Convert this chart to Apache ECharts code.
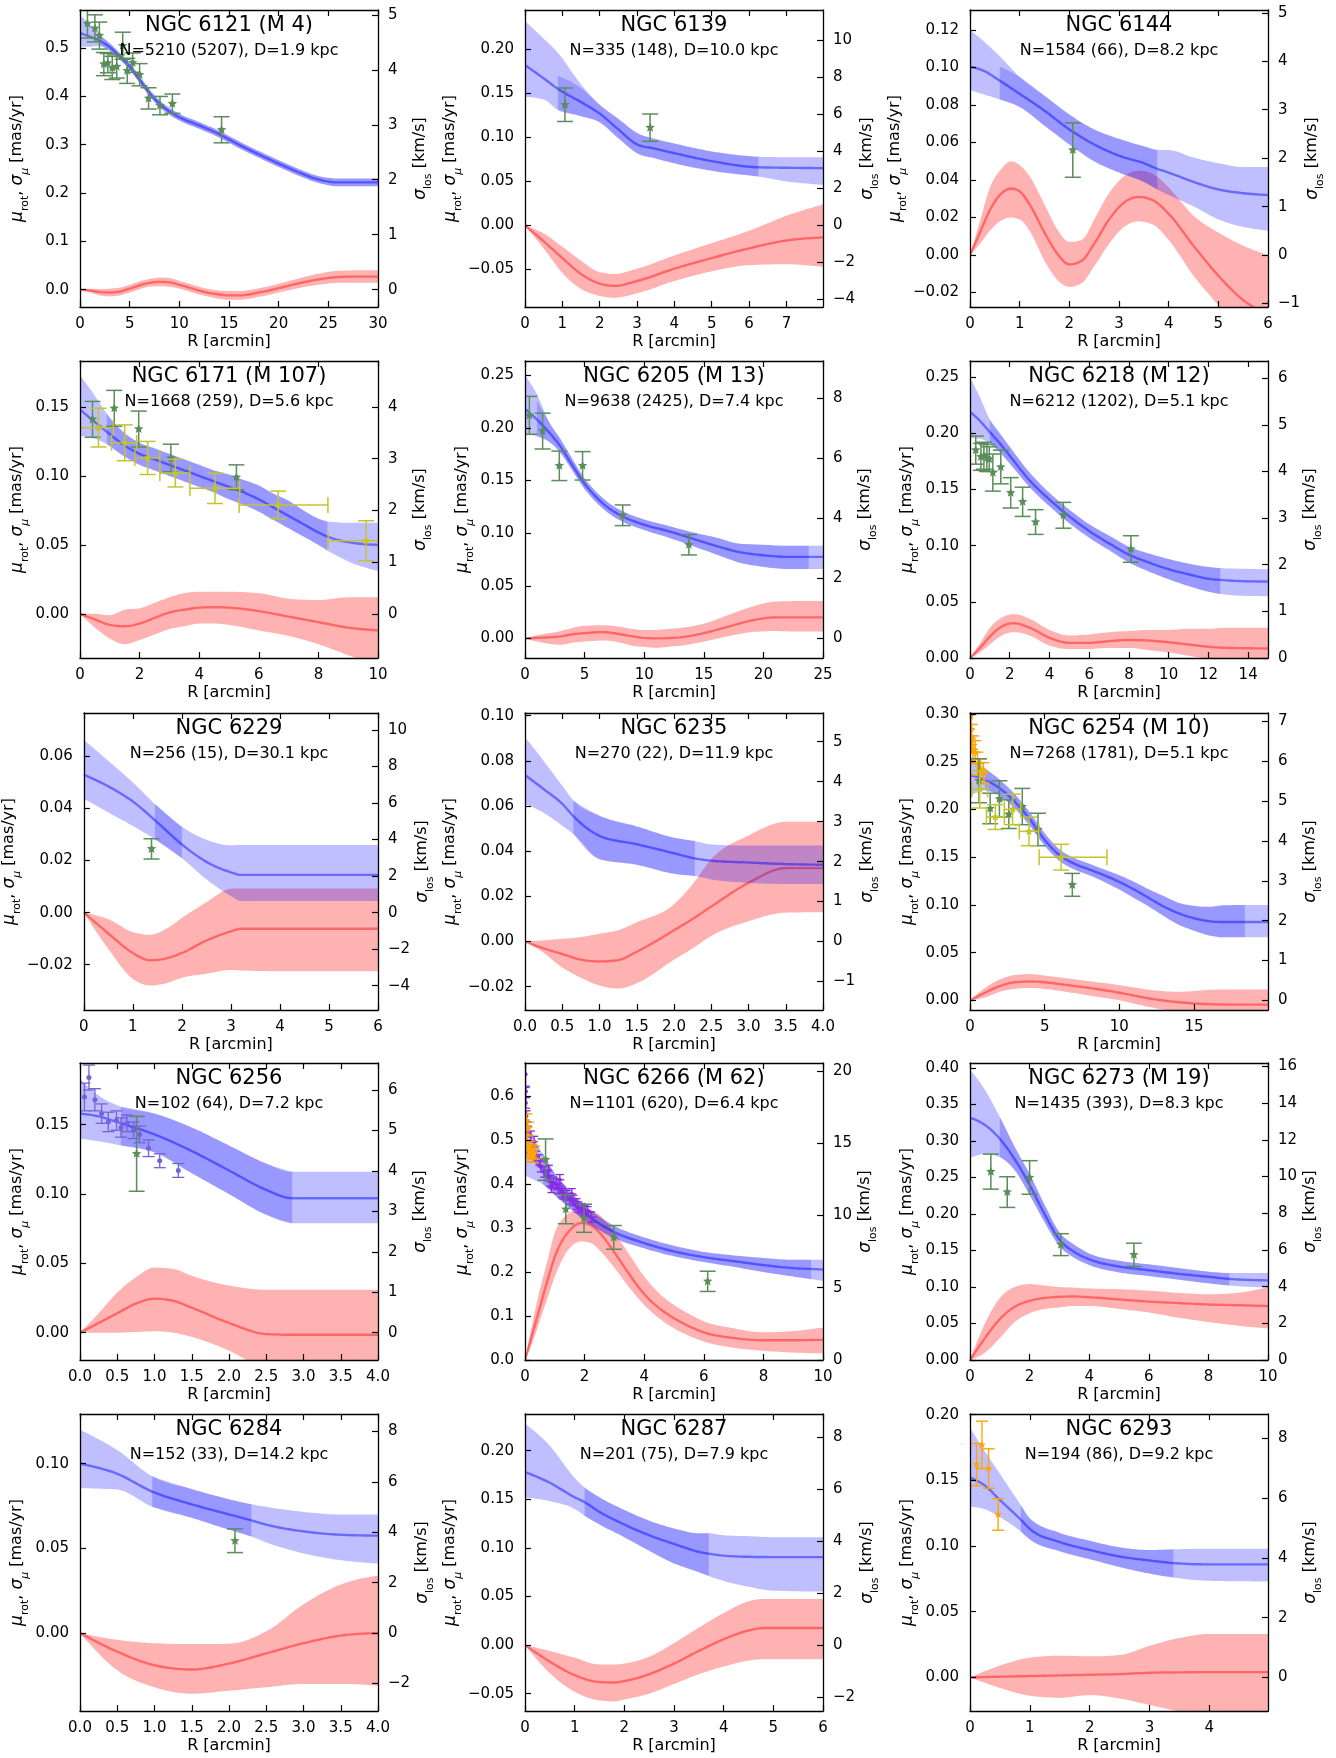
<!DOCTYPE html>
<html>
<head>
<meta charset="utf-8">
<title>Globular cluster kinematic profiles</title>
<script src="https://cdn.jsdelivr.net/npm/echarts@6.0.0/dist/echarts.min.js"></script>
<style>
  html, body { margin: 0; padding: 0; background: #fff; }
  #chart { width: 1336px; height: 1758px; }
</style>
</head>
<body>
<div id="chart"></div>
<script>
// ---------------------------------------------------------------------------
// Profiles per cluster.
//   *_disp : [R, sigma, lower, upper]   dispersion profile and its band (mas/yr)
//   *_core : [R, lower, upper]          well-constrained part of the dispersion band
//   *_rot  : [R, mu_rot, lower, upper]  rotation profile and its band (mas/yr)
//   *_los  : [R, value, err]            line-of-sight dispersion bins (converted)
//   *_pm   : [R, value, err, xErrLow, xErrHigh]  other proper-motion dispersion bins
// ---------------------------------------------------------------------------

// NGC 6121 (M 4)
const ngc6121_disp = [
  [0, 0.531, 0.503, 0.568], [1, 0.524, 0.503, 0.550], [2, 0.515, 0.505, 0.527],
  [3, 0.502, 0.494, 0.510], [4, 0.483, 0.476, 0.490], [5, 0.462, 0.455, 0.469],
  [6, 0.435, 0.428, 0.442], [7, 0.407, 0.400, 0.414], [8, 0.385, 0.378, 0.392],
  [9, 0.369, 0.362, 0.376], [10, 0.357, 0.350, 0.364], [12, 0.340, 0.333, 0.347],
  [14, 0.322, 0.315, 0.329], [16, 0.300, 0.293, 0.307], [18, 0.280, 0.273, 0.287],
  [20, 0.261, 0.254, 0.268], [22, 0.243, 0.236, 0.250], [24, 0.228, 0.221, 0.235],
  [26, 0.222, 0.214, 0.230], [28, 0.222, 0.214, 0.230], [30, 0.222, 0.214, 0.230]
];
const ngc6121_core = [
  [2, 0.505, 0.527], [3, 0.494, 0.510], [4, 0.476, 0.490], [5, 0.455, 0.469],
  [6, 0.428, 0.442], [7, 0.400, 0.414], [8, 0.378, 0.392], [9, 0.362, 0.376],
  [10, 0.350, 0.364], [12, 0.333, 0.347], [14, 0.315, 0.329], [16, 0.293, 0.307],
  [18, 0.273, 0.287], [20, 0.254, 0.268], [22, 0.236, 0.250], [24, 0.221, 0.235],
  [26, 0.214, 0.230], [28, 0.214, 0.230], [30, 0.214, 0.230]
];
const ngc6121_rot = [
  [0, 0, 0, 0], [1, -0.002, -0.006, 0.002], [2, -0.005, -0.012, 0.001],
  [3, -0.006, -0.014, 0.002], [4, -0.004, -0.012, 0.004], [5, 0.002, -0.006, 0.010],
  [6, 0.009, 0.001, 0.017], [7, 0.014, 0.006, 0.022], [8, 0.016, 0.007, 0.025],
  [9, 0.015, 0.006, 0.024], [10, 0.010, 0.002, 0.018], [11, 0.004, -0.004, 0.012],
  [12, -0.002, -0.010, 0.006], [13, -0.007, -0.015, 0.001], [14, -0.010, -0.019, -0.002],
  [15, -0.012, -0.021, -0.003], [16, -0.012, -0.021, -0.003], [17, -0.010, -0.019, -0.001],
  [18, -0.006, -0.015, 0.003], [19, -0.002, -0.011, 0.007], [20, 0.003, -0.006, 0.012],
  [22, 0.013, 0.003, 0.023], [24, 0.021, 0.010, 0.033], [26, 0.026, 0.014, 0.039],
  [28, 0.027, 0.014, 0.040], [30, 0.027, 0.014, 0.040]
];
const ngc6121_los = [
  [0.75, 0.551, 0.030], [1.5, 0.541, 0.028], [1.95, 0.526, 0.028], [2.4, 0.467, 0.024],
  [2.8, 0.469, 0.020], [3.25, 0.459, 0.024], [3.7, 0.462, 0.024], [4.3, 0.505, 0.028],
  [4.75, 0.453, 0.026], [5.3, 0.470, 0.020], [6.0, 0.445, 0.023], [6.9, 0.396, 0.022],
  [8.05, 0.381, 0.019], [9.3, 0.385, 0.020], [14.25, 0.331, 0.027]
];

// NGC 6139
const ngc6139_disp = [
  [0, 0.182, 0.146, 0.232], [0.5, 0.167, 0.143, 0.212], [0.88, 0.155, 0.131, 0.196],
  [1.5, 0.140, 0.124, 0.160], [2, 0.127, 0.117, 0.137], [2.5, 0.109, 0.099, 0.121],
  [3, 0.092, 0.082, 0.105], [3.5, 0.087, 0.076, 0.098], [4, 0.082, 0.0705, 0.093],
  [5, 0.073, 0.062, 0.084], [6.25, 0.066, 0.0555, 0.078], [7, 0.0655, 0.050, 0.0775],
  [7.98, 0.065, 0.046, 0.0775]
];
const ngc6139_core = [
  [0.88, 0.131, 0.170], [1.5, 0.124, 0.156], [2, 0.117, 0.137], [2.5, 0.099, 0.121],
  [3, 0.082, 0.105], [3.5, 0.076, 0.098], [4, 0.0705, 0.093], [5, 0.062, 0.084],
  [6.25, 0.0555, 0.078]
];
const ngc6139_rot = [
  [0, 0, 0, 0], [0.5, -0.018, -0.026, -0.009], [1, -0.037, -0.054, -0.024],
  [1.5, -0.055, -0.072, -0.040], [2, -0.066, -0.080, -0.053], [2.4, -0.0685, -0.082, -0.055],
  [3, -0.063, -0.077, -0.049], [4, -0.049, -0.063, -0.034], [5, -0.037, -0.052, -0.020],
  [6, -0.026, -0.045, -0.006], [7, -0.017, -0.044, 0.011], [7.98, -0.0135, -0.047, 0.024]
];
const ngc6139_los = [[1.07, 0.137, 0.019], [3.35, 0.111, 0.0155]];

// NGC 6144
const ngc6144_disp = [
  [0, 0.1005, 0.088, 0.120], [0.3, 0.098, 0.0855, 0.1135], [0.6, 0.093, 0.083, 0.106],
  [1, 0.086, 0.079, 0.095], [1.5, 0.077, 0.069, 0.085], [2, 0.067, 0.059, 0.075],
  [2.5, 0.059, 0.050, 0.067], [3, 0.053, 0.044, 0.062], [3.5, 0.049, 0.039, 0.058],
  [3.77, 0.046, 0.035, 0.056], [4, 0.044, 0.032, 0.056], [4.5, 0.039, 0.026, 0.052],
  [5, 0.035, 0.019, 0.049], [5.5, 0.033, 0.015, 0.047], [6, 0.032, 0.013, 0.047]
];
const ngc6144_core = [
  [0.6, 0.083, 0.1005], [1, 0.079, 0.095], [1.5, 0.069, 0.085], [2, 0.059, 0.075],
  [2.5, 0.050, 0.067], [3, 0.044, 0.062], [3.5, 0.039, 0.058], [3.77, 0.035, 0.056]
];
const ngc6144_rot = [
  [0, 0, 0, 0], [0.2, 0.012, 0.006, 0.018], [0.4, 0.024, 0.013, 0.036],
  [0.6, 0.032, 0.018, 0.045], [0.83, 0.0355, 0.020, 0.050], [1.0, 0.034, 0.019, 0.048],
  [1.2, 0.027, 0.013, 0.042], [1.5, 0.012, -0.003, 0.027], [1.75, 0.001, -0.013, 0.014],
  [2.0, -0.005, -0.017, 0.007], [2.25, -0.003, -0.015, 0.008], [2.5, 0.006, -0.006, 0.019],
  [2.8, 0.019, 0.006, 0.033], [3.1, 0.028, 0.015, 0.042], [3.4, 0.031, 0.018, 0.045],
  [3.7, 0.029, 0.016, 0.043], [4.0, 0.022, 0.008, 0.036], [4.5, 0.005, -0.011, 0.021],
  [5.0, -0.011, -0.027, 0.012], [5.5, -0.024, -0.045, 0.005], [6.0, -0.032, -0.060, 0.000]
];
const ngc6144_los = [[2.07, 0.056, 0.0145]];

// NGC 6171 (M 107)
const ngc6171_disp = [
  [0, 0.148, 0.129, 0.173], [0.5, 0.139, 0.127, 0.158], [0.9, 0.132, 0.123, 0.145],
  [1.5, 0.122, 0.114, 0.131], [2, 0.116, 0.108, 0.124], [2.5, 0.112, 0.104, 0.120],
  [3, 0.108, 0.100, 0.116], [3.5, 0.104, 0.096, 0.112], [4, 0.100, 0.092, 0.108],
  [4.5, 0.096, 0.088, 0.104], [5, 0.092, 0.083, 0.101], [5.5, 0.088, 0.079, 0.097],
  [6, 0.083, 0.074, 0.093], [6.5, 0.077, 0.068, 0.087], [7, 0.071, 0.062, 0.082],
  [7.5, 0.065, 0.056, 0.075], [8, 0.059, 0.050, 0.069], [8.3, 0.056, 0.046, 0.067],
  [9, 0.052, 0.038, 0.066], [10, 0.050, 0.031, 0.066]
];
const ngc6171_core = [
  [0.9, 0.123, 0.145], [1.5, 0.114, 0.131], [2, 0.108, 0.124], [2.5, 0.104, 0.120],
  [3, 0.100, 0.116], [3.5, 0.096, 0.112], [4, 0.092, 0.108], [4.5, 0.088, 0.104],
  [5, 0.083, 0.101], [5.5, 0.079, 0.097], [6, 0.074, 0.093], [6.5, 0.068, 0.087],
  [7, 0.062, 0.082], [7.5, 0.056, 0.075], [8, 0.050, 0.069], [8.3, 0.046, 0.067]
];
const ngc6171_rot = [
  [0, 0, 0, 0], [0.5, -0.004, -0.010, 0.000], [1, -0.008, -0.018, -0.001],
  [1.5, -0.009, -0.022, 0.003], [2, -0.007, -0.019, 0.004], [2.5, -0.003, -0.015, 0.008],
  [3, 0.001, -0.011, 0.012], [3.5, 0.003, -0.009, 0.015], [4, 0.0045, -0.007, 0.016],
  [4.5, 0.0048, -0.007, 0.016], [5, 0.0045, -0.008, 0.016], [6, 0.002, -0.012, 0.015],
  [7, -0.002, -0.016, 0.011], [8, -0.006, -0.022, 0.010], [9, -0.010, -0.030, 0.012],
  [10, -0.012, -0.038, 0.012]
];
const ngc6171_los = [
  [0.42, 0.141, 0.013], [1.15, 0.149, 0.013], [1.97, 0.134, 0.013],
  [3.05, 0.113, 0.010], [5.25, 0.099, 0.009]
];
const ngc6171_pm = [
  [0.62, 0.135, 0.014, 0.62, 0.50], [1.5, 0.124, 0.013, 0.44, 0.40], [2.27, 0.113, 0.012, 0.43, 0.41],
  [3.2, 0.102, 0.010, 0.52, 0.49], [4.53, 0.091, 0.011, 0.84, 0.83], [6.65, 0.079, 0.010, 1.31, 1.67],
  [9.6, 0.053, 0.0145, 1.27, 1.30]
];

// NGC 6205 (M 13)
const ngc6205_disp = [
  [0, 0.218, 0.194, 0.250], [1, 0.208, 0.192, 0.232], [2, 0.196, 0.187, 0.206],
  [3, 0.182, 0.176, 0.189], [4, 0.164, 0.159, 0.170], [5, 0.147, 0.142, 0.152],
  [6, 0.134, 0.129, 0.139], [7, 0.124, 0.119, 0.129], [8, 0.117, 0.112, 0.122],
  [10, 0.108, 0.103, 0.113], [12, 0.102, 0.096, 0.107], [14, 0.095, 0.088, 0.101],
  [16, 0.088, 0.080, 0.096], [18, 0.082, 0.072, 0.090], [20, 0.079, 0.068, 0.089],
  [22, 0.0775, 0.066, 0.088], [23.8, 0.0775, 0.066, 0.088], [25, 0.0775, 0.066, 0.088]
];
const ngc6205_core = [
  [1, 0.192, 0.226], [2, 0.187, 0.206], [3, 0.176, 0.189], [4, 0.159, 0.170],
  [5, 0.142, 0.152], [6, 0.129, 0.139], [7, 0.119, 0.129], [8, 0.112, 0.122],
  [10, 0.103, 0.113], [12, 0.096, 0.107], [14, 0.088, 0.101], [16, 0.080, 0.096],
  [18, 0.072, 0.090], [20, 0.068, 0.089], [22, 0.066, 0.088], [23.8, 0.066, 0.088]
];
const ngc6205_rot = [
  [0, 0, 0, 0], [1, 0.0005, -0.003, 0.003], [2, 0.001, -0.005, 0.005],
  [3, 0.002, -0.006, 0.007], [4, 0.004, -0.004, 0.010], [5, 0.005, -0.003, 0.012],
  [6.5, 0.006, -0.002, 0.0125], [8, 0.004, -0.004, 0.011], [9, 0.002, -0.007, 0.009],
  [10, 0.0005, -0.008, 0.008], [11, 0.0, -0.009, 0.008], [12, 0.0003, -0.008, 0.009],
  [13, 0.001, -0.007, 0.010], [15, 0.005, -0.003, 0.014], [17, 0.011, 0.002, 0.022],
  [19, 0.017, 0.006, 0.030], [21, 0.020, 0.007, 0.035], [23, 0.020, 0.0065, 0.0355],
  [25, 0.020, 0.0065, 0.0355]
];
const ngc6205_los = [
  [0.37, 0.212, 0.018], [1.48, 0.197, 0.017], [2.88, 0.164, 0.014],
  [4.83, 0.164, 0.0135], [8.2, 0.117, 0.0098], [13.75, 0.089, 0.0097]
];

// NGC 6218 (M 12)
const ngc6218_disp = [
  [0, 0.219, 0.196, 0.250], [0.5, 0.211, 0.195, 0.232], [1, 0.201, 0.191, 0.212],
  [1.5, 0.191, 0.183, 0.200], [2, 0.180, 0.173, 0.188], [3, 0.158, 0.152, 0.165],
  [4, 0.141, 0.135, 0.147], [5, 0.126, 0.120, 0.132], [6, 0.113, 0.107, 0.119],
  [7, 0.102, 0.096, 0.109], [8, 0.092, 0.085, 0.099], [9, 0.085, 0.077, 0.093],
  [10, 0.079, 0.070, 0.088], [11, 0.0745, 0.064, 0.084], [12, 0.0705, 0.059, 0.081],
  [12.6, 0.0695, 0.057, 0.080], [13.5, 0.0685, 0.0555, 0.0795], [15, 0.068, 0.055, 0.079]
];
const ngc6218_core = [
  [1, 0.191, 0.212], [1.5, 0.183, 0.200], [2, 0.173, 0.188], [3, 0.152, 0.165],
  [4, 0.135, 0.147], [5, 0.120, 0.132], [6, 0.107, 0.119], [7, 0.096, 0.109],
  [8, 0.085, 0.099], [9, 0.077, 0.093], [10, 0.070, 0.088], [11, 0.064, 0.084],
  [12, 0.059, 0.081], [12.6, 0.057, 0.080]
];
const ngc6218_rot = [
  [0, 0, 0, 0], [0.5, 0.009, 0.005, 0.013], [1, 0.019, 0.012, 0.027],
  [1.5, 0.027, 0.019, 0.035], [2.2, 0.031, 0.023, 0.039], [3, 0.027, 0.020, 0.035],
  [4, 0.018, 0.011, 0.025], [5, 0.0135, 0.008, 0.020], [6, 0.0135, 0.008, 0.021],
  [7, 0.015, 0.009, 0.023], [8, 0.016, 0.009, 0.024], [9, 0.0155, 0.007, 0.025],
  [10, 0.014, 0.005, 0.025], [11, 0.012, 0.002, 0.026], [12, 0.010, -0.001, 0.026],
  [13, 0.009, -0.002, 0.027], [15, 0.0085, -0.002, 0.027]
];
const ngc6218_los = [
  [0.29, 0.185, 0.0125], [0.55, 0.179, 0.012], [0.7, 0.180, 0.012], [0.85, 0.178, 0.012],
  [0.97, 0.177, 0.011], [1.15, 0.165, 0.0165], [1.55, 0.170, 0.015], [2.05, 0.147, 0.0135],
  [2.65, 0.139, 0.013], [3.3, 0.121, 0.011], [4.7, 0.127, 0.0115], [8.1, 0.097, 0.0118]
];

// NGC 6229
const ngc6229_disp = [
  [0, 0.053, 0.0438, 0.0664], [0.5, 0.0485, 0.0385, 0.0583], [1, 0.0427, 0.0333, 0.0500],
  [1.45, 0.0355, 0.0282, 0.0417], [2, 0.0262, 0.0209, 0.0330], [2.5, 0.0195, 0.0128, 0.0280],
  [3, 0.0155, 0.0064, 0.0259], [3.2, 0.0145, 0.0045, 0.0260], [4, 0.0145, 0.0045, 0.0260],
  [6, 0.0145, 0.0045, 0.0260]
];
const ngc6229_core = [[1.45, 0.0282, 0.0417], [2, 0.0209, 0.0330]];
const ngc6229_rot = [
  [0, 0, 0, 0], [0.5, -0.008, -0.014, -0.0025], [1, -0.0155, -0.0255, -0.0075],
  [1.35, -0.0183, -0.028, -0.0085], [1.7, -0.0175, -0.027, -0.006], [2, -0.0155, -0.025, -0.002],
  [2.5, -0.0107, -0.0235, 0.004], [3, -0.0072, -0.022, 0.0092], [3.2, -0.0062, -0.0222, 0.0093],
  [4, -0.0062, -0.0225, 0.0093], [6, -0.0062, -0.0225, 0.0093]
];
const ngc6229_los = [[1.38, 0.0245, 0.0039]];

// NGC 6235
const ngc6235_disp = [
  [0, 0.0737, 0.061, 0.0905], [0.25, 0.0675, 0.057, 0.080], [0.5, 0.061, 0.0513, 0.069],
  [0.65, 0.0555, 0.0476, 0.0625], [1, 0.0468, 0.0365, 0.0557], [1.5, 0.0431, 0.034, 0.051],
  [2, 0.0391, 0.030, 0.046], [2.28, 0.0368, 0.029, 0.0445], [2.5, 0.0358, 0.0275, 0.043],
  [3, 0.035, 0.026, 0.0425], [3.5, 0.0343, 0.0255, 0.0425], [4, 0.034, 0.0255, 0.0425]
];
const ngc6235_core = [
  [0.65, 0.0476, 0.0625], [1, 0.0365, 0.0557], [1.5, 0.034, 0.051], [2, 0.030, 0.046],
  [2.28, 0.029, 0.0445]
];
const ngc6235_rot = [
  [0, 0, 0, 0], [0.25, -0.003, -0.005, 0.0005], [0.5, -0.0055, -0.0115, 0.0012],
  [0.75, -0.008, -0.016, 0.002], [1, -0.0088, -0.0195, 0.0035], [1.25, -0.0082, -0.0208, 0.005],
  [1.5, -0.0045, -0.0185, 0.0085], [2, 0.005, -0.008, 0.0165], [2.25, 0.010, -0.003, 0.0254],
  [2.5, 0.0155, 0.0025, 0.0365], [3, 0.026, 0.009, 0.047], [3.5, 0.0325, 0.0128, 0.053],
  [4, 0.0325, 0.013, 0.053]
];

// NGC 6254 (M 10)
const ngc6254_disp = [
  [0, 0.236, 0.214, 0.255], [1, 0.231, 0.220, 0.243], [2, 0.222, 0.214, 0.231],
  [3, 0.208, 0.201, 0.216], [4, 0.190, 0.183, 0.197], [5, 0.168, 0.162, 0.175],
  [6, 0.152, 0.146, 0.158], [7, 0.143, 0.137, 0.149], [8, 0.137, 0.131, 0.143],
  [9, 0.131, 0.124, 0.137], [10, 0.124, 0.116, 0.131], [11, 0.116, 0.107, 0.124],
  [12, 0.107, 0.098, 0.116], [13, 0.098, 0.088, 0.109], [14, 0.091, 0.079, 0.102],
  [15, 0.086, 0.073, 0.099], [16, 0.083, 0.068, 0.098], [17, 0.082, 0.066, 0.0995],
  [18.4, 0.082, 0.066, 0.100], [19.95, 0.082, 0.066, 0.100]
];
const ngc6254_core = [
  [1, 0.220, 0.243], [2, 0.214, 0.231], [3, 0.201, 0.216], [4, 0.183, 0.197],
  [5, 0.162, 0.175], [6, 0.146, 0.158], [7, 0.137, 0.149], [8, 0.131, 0.143],
  [9, 0.124, 0.137], [10, 0.116, 0.131], [11, 0.107, 0.124], [12, 0.098, 0.116],
  [13, 0.088, 0.109], [14, 0.079, 0.102], [15, 0.073, 0.099], [16, 0.068, 0.098],
  [17, 0.066, 0.0995], [18.4, 0.066, 0.100]
];
const ngc6254_rot = [
  [0, 0, 0, 0], [1, 0.008, 0.003, 0.013], [2, 0.015, 0.009, 0.022],
  [3, 0.019, 0.012, 0.0265], [4, 0.0198, 0.013, 0.0275], [5, 0.019, 0.012, 0.026],
  [6, 0.017, 0.010, 0.024], [8, 0.013, 0.005, 0.020], [10, 0.008, 0.000, 0.016],
  [12, 0.002, -0.007, 0.011], [14, -0.002, -0.012, 0.009], [16, -0.004, -0.016, 0.011],
  [18, -0.0045, -0.018, 0.0115], [19.95, -0.0045, -0.018, 0.0115]
];
const ngc6254_los = [
  [0.6, 0.230, 0.023], [1.35, 0.201, 0.016], [1.97, 0.211, 0.019], [2.6, 0.195, 0.015],
  [3.5, 0.203, 0.019], [4.55, 0.179, 0.017], [6.85, 0.121, 0.012]
];
const ngc6254_pm = [
  [0.65, 0.221, 0.0195, 0.53, 0.53], [1.7, 0.192, 0.013, 0.6, 0.6], [2.85, 0.200, 0.016, 0.55, 0.55],
  [3.95, 0.177, 0.015, 0.65, 0.65], [6.1, 0.150, 0.0135, 1.47, 3.07]
];
const ngc6254_pmInner = [
  [0.05, 0.297, 0.020, 0.05, 0.10], [0.08, 0.284, 0.016, 0.08, 0.25], [0.12, 0.274, 0.015, 0.10, 0.30],
  [0.2, 0.263, 0.014, 0.15, 0.35], [0.35, 0.260, 0.012, 0.20, 0.30], [0.5, 0.248, 0.012, 0.30, 0.40],
  [0.7, 0.242, 0.011, 0.30, 0.40], [0.9, 0.238, 0.011, 0.35, 0.35]
];

// NGC 6256
const ngc6256_disp = [
  [0, 0.158, 0.140, 0.183], [0.25, 0.156, 0.138, 0.171], [0.55, 0.151, 0.135, 0.163],
  [1, 0.143, 0.130, 0.158], [1.5, 0.131, 0.115, 0.148], [2, 0.117, 0.100, 0.135],
  [2.5, 0.103, 0.085, 0.122], [2.85, 0.097, 0.079, 0.116], [4, 0.097, 0.079, 0.116]
];
const ngc6256_core = [
  [0.55, 0.135, 0.163], [1, 0.130, 0.158], [1.5, 0.115, 0.148], [2, 0.100, 0.135],
  [2.5, 0.085, 0.122], [2.85, 0.079, 0.116]
];
const ngc6256_rot = [
  [0, 0, 0, 0], [0.25, 0.007, 0.0, 0.014], [0.5, 0.014, 0.0, 0.029],
  [0.75, 0.021, 0.0005, 0.040], [1, 0.0245, 0.001, 0.047], [1.25, 0.023, 0.0, 0.046],
  [1.5, 0.018, -0.003, 0.041], [2, 0.007, -0.013, 0.034], [2.5, -0.001, -0.027, 0.031],
  [2.85, -0.0015, -0.032, 0.031], [4, -0.0015, -0.032, 0.031]
];
const ngc6256_los = [[0.76, 0.129, 0.027]];
const ngc6256_pm = [
  [0.06, 0.170, 0.010], [0.12, 0.184, 0.009], [0.2, 0.168, 0.008], [0.29, 0.158, 0.007],
  [0.38, 0.152, 0.007], [0.49, 0.153, 0.007], [0.55, 0.148, 0.007], [0.63, 0.151, 0.006],
  [0.72, 0.146, 0.006], [0.8, 0.143, 0.006], [0.92, 0.133, 0.006], [1.07, 0.124, 0.005],
  [1.32, 0.117, 0.005]
];

// NGC 6266 (M 62)
const ngc6266_disp = [
  [0, 0.475, 0.420, 0.540], [0.3, 0.455, 0.410, 0.505], [0.6, 0.432, 0.400, 0.468],
  [1, 0.400, 0.375, 0.425], [1.5, 0.365, 0.345, 0.385], [2, 0.335, 0.318, 0.352],
  [2.5, 0.310, 0.295, 0.326], [3, 0.291, 0.277, 0.305], [4, 0.266, 0.254, 0.279],
  [5, 0.247, 0.236, 0.260], [6, 0.234, 0.223, 0.246], [7, 0.225, 0.212, 0.238],
  [8, 0.216, 0.200, 0.232], [9, 0.209, 0.190, 0.228], [9.6, 0.207, 0.184, 0.228],
  [10, 0.206, 0.180, 0.228]
];
const ngc6266_core = [
  [0.6, 0.400, 0.468], [1, 0.375, 0.425], [1.5, 0.345, 0.385], [2, 0.318, 0.352],
  [2.5, 0.295, 0.326], [3, 0.277, 0.305], [4, 0.254, 0.279], [5, 0.236, 0.260],
  [6, 0.223, 0.246], [7, 0.212, 0.238], [8, 0.200, 0.232], [9, 0.190, 0.228],
  [9.6, 0.184, 0.228]
];
const ngc6266_rot = [
  [0, 0, 0, 0], [0.25, 0.060, 0.040, 0.085], [0.5, 0.120, 0.090, 0.160],
  [0.75, 0.180, 0.140, 0.225], [1, 0.235, 0.190, 0.290], [1.5, 0.295, 0.255, 0.335],
  [1.9, 0.312, 0.270, 0.345], [2.25, 0.305, 0.265, 0.340], [2.5, 0.290, 0.250, 0.330],
  [3, 0.245, 0.210, 0.290], [3.5, 0.195, 0.165, 0.240], [4, 0.150, 0.125, 0.190],
  [4.5, 0.118, 0.095, 0.152], [5, 0.095, 0.072, 0.125], [5.5, 0.077, 0.055, 0.105],
  [6, 0.063, 0.042, 0.088], [7, 0.050, 0.028, 0.072], [8, 0.045, 0.021, 0.063],
  [9, 0.045, 0.017, 0.066], [10, 0.046, 0.015, 0.074]
];
const ngc6266_los = [
  [0.69, 0.456, 0.047], [1.37, 0.343, 0.033], [1.98, 0.3225, 0.032],
  [2.98, 0.279, 0.027], [6.13, 0.179, 0.023]
];
const ngc6266_pm = [
  [0.02, 0.650, 0.030, 0.02, 0.02], [0.03, 0.611, 0.012, 0.03, 0.03], [0.03, 0.585, 0.012, 0.03, 0.03],
  [0.05, 0.555, 0.012, 0.04, 0.04], [0.08, 0.529, 0.012, 0.05, 0.05], [0.1, 0.520, 0.012, 0.06, 0.06],
  [0.2, 0.509, 0.012, 0.10, 0.10], [0.31, 0.497, 0.012, 0.12, 0.12], [0.25, 0.478, 0.012, 0.10, 0.10],
  [0.37, 0.463, 0.012, 0.12, 0.12], [0.48, 0.455, 0.012, 0.12, 0.12], [0.53, 0.440, 0.012, 0.12, 0.12],
  [0.64, 0.428, 0.012, 0.12, 0.12], [0.75, 0.420, 0.012, 0.12, 0.12], [0.8, 0.431, 0.012, 0.12, 0.12],
  [0.84, 0.408, 0.012, 0.12, 0.12], [0.95, 0.404, 0.012, 0.12, 0.12], [0.89, 0.393, 0.012, 0.12, 0.12],
  [1.06, 0.400, 0.012, 0.15, 0.15], [1.12, 0.390, 0.012, 0.15, 0.15], [1.17, 0.410, 0.012, 0.15, 0.15],
  [1.23, 0.382, 0.012, 0.15, 0.15], [1.29, 0.378, 0.012, 0.15, 0.15], [1.4, 0.374, 0.012, 0.15, 0.15],
  [1.51, 0.367, 0.012, 0.15, 0.15], [1.57, 0.378, 0.012, 0.15, 0.15], [1.62, 0.363, 0.012, 0.15, 0.15],
  [1.73, 0.355, 0.012, 0.15, 0.15], [1.79, 0.348, 0.012, 0.15, 0.15], [1.9, 0.344, 0.012, 0.15, 0.15],
  [2.0, 0.340, 0.012, 0.20, 0.20], [2.1, 0.337, 0.012, 0.20, 0.20], [2.22, 0.325, 0.012, 0.20, 0.20]
];
const ngc6266_pmInner = [
  [0.05, 0.545, 0.015, 0.05, 0.05], [0.1, 0.526, 0.015, 0.08, 0.08], [0.07, 0.495, 0.015, 0.07, 0.07],
  [0.15, 0.483, 0.015, 0.10, 0.10], [0.2, 0.476, 0.015, 0.12, 0.12], [0.26, 0.465, 0.015, 0.12, 0.12],
  [0.1, 0.465, 0.015, 0.10, 0.10], [0.31, 0.472, 0.015, 0.12, 0.12]
];

// NGC 6273 (M 19)
const ngc6273_disp = [
  [0, 0.332, 0.277, 0.398], [0.5, 0.322, 0.282, 0.370], [1, 0.303, 0.278, 0.333],
  [1.5, 0.275, 0.260, 0.292], [2, 0.240, 0.226, 0.255], [2.5, 0.200, 0.189, 0.213],
  [3, 0.165, 0.156, 0.175], [3.5, 0.148, 0.140, 0.158], [4, 0.138, 0.130, 0.146],
  [5, 0.128, 0.120, 0.136], [6, 0.123, 0.115, 0.131], [7, 0.118, 0.110, 0.126],
  [8, 0.114, 0.105, 0.121], [8.7, 0.111, 0.102, 0.119], [10, 0.109, 0.099, 0.119]
];
const ngc6273_core = [
  [1, 0.278, 0.333], [1.5, 0.260, 0.292], [2, 0.226, 0.255], [2.5, 0.189, 0.213],
  [3, 0.156, 0.175], [3.5, 0.140, 0.158], [4, 0.130, 0.146], [5, 0.120, 0.136],
  [6, 0.115, 0.131], [7, 0.110, 0.126], [8, 0.105, 0.121], [8.7, 0.102, 0.119]
];
const ngc6273_rot = [
  [0, 0, 0, 0], [0.5, 0.030, 0.010, 0.050], [1, 0.056, 0.030, 0.085],
  [1.5, 0.073, 0.052, 0.100], [2, 0.081, 0.064, 0.104], [2.5, 0.085, 0.070, 0.102],
  [3, 0.0865, 0.072, 0.100], [3.5, 0.087, 0.074, 0.099], [4, 0.086, 0.074, 0.098],
  [5, 0.083, 0.070, 0.097], [6, 0.080, 0.065, 0.095], [7, 0.078, 0.058, 0.092],
  [8, 0.076, 0.052, 0.090], [9, 0.075, 0.047, 0.092], [10, 0.074, 0.043, 0.100]
];
const ngc6273_los = [
  [0.7, 0.258, 0.024], [1.25, 0.230, 0.021], [2.0, 0.250, 0.023],
  [3.05, 0.158, 0.015], [5.5, 0.144, 0.016]
];

// NGC 6284
const ngc6284_disp = [
  [0, 0.100, 0.0855, 0.120], [0.5, 0.094, 0.0847, 0.108], [0.97, 0.0835, 0.0745, 0.0925],
  [1.5, 0.076, 0.068, 0.085], [2, 0.070, 0.061, 0.079], [2.3, 0.0665, 0.057, 0.076],
  [2.5, 0.064, 0.0535, 0.0745], [3, 0.060, 0.047, 0.0715], [3.5, 0.058, 0.043, 0.070],
  [4, 0.0575, 0.041, 0.070]
];
const ngc6284_core = [
  [0.97, 0.0745, 0.0925], [1.5, 0.068, 0.085], [2, 0.061, 0.079], [2.3, 0.057, 0.076]
];
const ngc6284_rot = [
  [0, 0, 0, 0], [0.5, -0.011, -0.022, -0.004], [1, -0.019, -0.032, -0.006],
  [1.5, -0.0215, -0.0358, -0.0065], [2, -0.018, -0.034, -0.0063], [2.5, -0.012, -0.032, 0.001],
  [3, -0.006, -0.030, 0.017], [3.5, -0.0015, -0.030, 0.0287], [4, 0.0, -0.031, 0.034]
];
const ngc6284_los = [[2.08, 0.0545, 0.007]];

// NGC 6287
const ngc6287_disp = [
  [0, 0.178, 0.152, 0.228], [0.5, 0.167, 0.148, 0.205], [1, 0.152, 0.140, 0.172],
  [1.2, 0.147, 0.133, 0.162], [1.5, 0.137, 0.124, 0.152], [2, 0.124, 0.111, 0.139],
  [2.5, 0.113, 0.097, 0.128], [3, 0.104, 0.084, 0.120], [3.5, 0.096, 0.075, 0.115],
  [3.7, 0.094, 0.071, 0.115], [4, 0.092, 0.066, 0.113], [4.5, 0.0908, 0.060, 0.112],
  [5, 0.0905, 0.056, 0.111], [6, 0.0905, 0.055, 0.111]
];
const ngc6287_core = [
  [1.2, 0.133, 0.162], [1.5, 0.124, 0.152], [2, 0.111, 0.139], [2.5, 0.097, 0.128],
  [3, 0.084, 0.120], [3.5, 0.075, 0.115], [3.7, 0.071, 0.115]
];
const ngc6287_rot = [
  [0, 0, 0, 0], [0.5, -0.017, -0.029, -0.006], [1, -0.031, -0.048, -0.013],
  [1.5, -0.038, -0.057, -0.020], [1.8, -0.0385, -0.058, -0.020], [2, -0.037, -0.056, -0.019],
  [2.5, -0.030, -0.050, -0.012], [3, -0.019, -0.040, 0.002], [3.5, -0.006, -0.030, 0.018],
  [4, 0.006, -0.022, 0.033], [4.5, 0.015, -0.016, 0.045], [4.8, 0.0175, -0.0145, 0.0475],
  [6, 0.0175, -0.0145, 0.0475]
];

// NGC 6293
const ngc6293_disp = [
  [0, 0.152, 0.130, 0.190], [0.25, 0.146, 0.128, 0.172], [0.5, 0.135, 0.122, 0.155],
  [0.85, 0.120, 0.111, 0.131], [1, 0.113, 0.105, 0.121], [1.5, 0.103, 0.096, 0.110],
  [2, 0.097, 0.090, 0.104], [2.5, 0.092, 0.084, 0.099], [3, 0.089, 0.079, 0.097],
  [3.4, 0.087, 0.076, 0.0975], [4, 0.086, 0.0735, 0.098], [4.98, 0.086, 0.073, 0.098]
];
const ngc6293_core = [
  [0.85, 0.111, 0.131], [1, 0.105, 0.121], [1.5, 0.096, 0.110], [2, 0.090, 0.104],
  [2.5, 0.084, 0.099], [3, 0.079, 0.097], [3.4, 0.076, 0.0975]
];
const ngc6293_rot = [
  [0, 0, 0, 0], [0.5, 0.0005, -0.008, 0.009], [1, 0.001, -0.014, 0.015],
  [1.5, 0.0015, -0.0155, 0.0165], [2, 0.002, -0.0135, 0.016], [2.5, 0.0025, -0.016, 0.017],
  [3, 0.0035, -0.021, 0.024], [3.5, 0.0038, -0.026, 0.030], [4, 0.004, -0.030, 0.033],
  [4.98, 0.004, -0.035, 0.033]
];
const ngc6293_pm = [
  [0.11, 0.162, 0.016], [0.2, 0.177, 0.018], [0.31, 0.159, 0.015], [0.47, 0.124, 0.012]
];

// ---------------------------------------------------------------------------
// Panel descriptions: titles, axis ranges and ticks.
// k converts mas/yr to km/s (4.74 x distance) for the right-hand axis.
// ---------------------------------------------------------------------------
const panels = [
  { name: 'NGC 6121 (M 4)', info: 'N=5210 (5207), D=1.9 kpc',
    disp: ngc6121_disp, core: ngc6121_core, rot: ngc6121_rot,
    points: [{ data: ngc6121_los, style: 'los' }],
    xr: [0, 30], xTicks: [0, 5, 10, 15, 20, 25, 30], xDec: 0,
    yr: [-0.036, 0.579], yTicks: [0, 0.1, 0.2, 0.3, 0.4, 0.5], yDec: 1,
    k: 8.79, kTicks: [0, 1, 2, 3, 4, 5] },
  { name: 'NGC 6139', info: 'N=335 (148), D=10.0 kpc',
    disp: ngc6139_disp, core: ngc6139_core, rot: ngc6139_rot,
    points: [{ data: ngc6139_los, style: 'los' }],
    xr: [0, 7.98], xTicks: [0, 1, 2, 3, 4, 5, 6, 7], xDec: 0,
    yr: [-0.0925, 0.2445], yTicks: [-0.05, 0, 0.05, 0.1, 0.15, 0.2], yDec: 2,
    k: 47.6, kTicks: [-4, -2, 0, 2, 4, 6, 8, 10] },
  { name: 'NGC 6144', info: 'N=1584 (66), D=8.2 kpc',
    disp: ngc6144_disp, core: ngc6144_core, rot: ngc6144_rot,
    points: [{ data: ngc6144_los, style: 'los' }],
    xr: [0, 6], xTicks: [0, 1, 2, 3, 4, 5, 6], xDec: 0,
    yr: [-0.0277, 0.1307], yTicks: [-0.02, 0, 0.02, 0.04, 0.06, 0.08, 0.1, 0.12], yDec: 2,
    k: 38.7, kTicks: [-1, 0, 1, 2, 3, 4, 5] },
  { name: 'NGC 6171 (M 107)', info: 'N=1668 (259), D=5.6 kpc',
    disp: ngc6171_disp, core: ngc6171_core, rot: ngc6171_rot,
    points: [{ data: ngc6171_los, style: 'los' }, { data: ngc6171_pm, style: 'pm' }],
    xr: [0, 10], xTicks: [0, 2, 4, 6, 8, 10], xDec: 0,
    yr: [-0.032, 0.1833], yTicks: [0, 0.05, 0.1, 0.15], yDec: 2,
    k: 26.67, kTicks: [0, 1, 2, 3, 4] },
  { name: 'NGC 6205 (M 13)', info: 'N=9638 (2425), D=7.4 kpc',
    disp: ngc6205_disp, core: ngc6205_core, rot: ngc6205_rot,
    points: [{ data: ngc6205_los, style: 'los' }],
    xr: [0, 25], xTicks: [0, 5, 10, 15, 20, 25], xDec: 0,
    yr: [-0.0186, 0.2636], yTicks: [0, 0.05, 0.1, 0.15, 0.2, 0.25], yDec: 2,
    k: 35.1, kTicks: [0, 2, 4, 6, 8] },
  { name: 'NGC 6218 (M 12)', info: 'N=6212 (1202), D=5.1 kpc',
    disp: ngc6218_disp, core: ngc6218_core, rot: ngc6218_rot,
    points: [{ data: ngc6218_los, style: 'los' }],
    xr: [0, 15], xTicks: [0, 2, 4, 6, 8, 10, 12, 14], xDec: 0,
    yr: [0, 0.2643], yTicks: [0, 0.05, 0.1, 0.15, 0.2, 0.25], yDec: 2,
    k: 24.1, kTicks: [0, 1, 2, 3, 4, 5, 6] },
  { name: 'NGC 6229', info: 'N=256 (15), D=30.1 kpc',
    disp: ngc6229_disp, core: ngc6229_core, rot: ngc6229_rot,
    points: [{ data: ngc6229_los, style: 'los' }],
    xr: [0, 6], xTicks: [0, 1, 2, 3, 4, 5, 6], xDec: 0,
    yr: [-0.0374, 0.0767], yTicks: [-0.02, 0, 0.02, 0.04, 0.06], yDec: 2,
    k: 142.5, kTicks: [-4, -2, 0, 2, 4, 6, 8, 10] },
  { name: 'NGC 6235', info: 'N=270 (22), D=11.9 kpc',
    disp: ngc6235_disp, core: ngc6235_core, rot: ngc6235_rot,
    points: [],
    xr: [0, 4], xTicks: [0, 0.5, 1, 1.5, 2, 2.5, 3, 3.5, 4], xDec: 1,
    yr: [-0.0303, 0.1012], yTicks: [-0.02, 0, 0.02, 0.04, 0.06, 0.08, 0.1], yDec: 2,
    k: 56.5, kTicks: [-1, 0, 1, 2, 3, 4, 5] },
  { name: 'NGC 6254 (M 10)', info: 'N=7268 (1781), D=5.1 kpc',
    disp: ngc6254_disp, core: ngc6254_core, rot: ngc6254_rot,
    points: [{ data: ngc6254_pmInner, style: 'inner' }, { data: ngc6254_los, style: 'los' },
             { data: ngc6254_pm, style: 'pm' }],
    xr: [0, 19.95], xTicks: [0, 5, 10, 15], xDec: 0,
    yr: [-0.0101, 0.301], yTicks: [0, 0.05, 0.1, 0.15, 0.2, 0.25, 0.3], yDec: 2,
    k: 23.95, kTicks: [0, 1, 2, 3, 4, 5, 6, 7] },
  { name: 'NGC 6256', info: 'N=102 (64), D=7.2 kpc',
    disp: ngc6256_disp, core: ngc6256_core, rot: ngc6256_rot,
    points: [{ data: ngc6256_pm, style: 'acs' }, { data: ngc6256_los, style: 'los' }],
    xr: [0, 4], xTicks: [0, 0.5, 1, 1.5, 2, 2.5, 3, 3.5, 4], xDec: 1,
    yr: [-0.0197, 0.1945], yTicks: [0, 0.05, 0.1, 0.15], yDec: 2,
    k: 34.3, kTicks: [0, 1, 2, 3, 4, 5, 6] },
  { name: 'NGC 6266 (M 62)', info: 'N=1101 (620), D=6.4 kpc',
    disp: ngc6266_disp, core: ngc6266_core, rot: ngc6266_rot,
    points: [{ data: ngc6266_pm, style: 'hst' }, { data: ngc6266_pmInner, style: 'inner' },
             { data: ngc6266_los, style: 'los' }],
    xr: [0, 10], xTicks: [0, 2, 4, 6, 8, 10], xDec: 0,
    yr: [0, 0.6758], yTicks: [0, 0.1, 0.2, 0.3, 0.4, 0.5, 0.6], yDec: 1,
    k: 30.4, kTicks: [0, 5, 10, 15, 20] },
  { name: 'NGC 6273 (M 19)', info: 'N=1435 (393), D=8.3 kpc',
    disp: ngc6273_disp, core: ngc6273_core, rot: ngc6273_rot,
    points: [{ data: ngc6273_los, style: 'los' }],
    xr: [0, 10], xTicks: [0, 2, 4, 6, 8, 10], xDec: 0,
    yr: [0, 0.4068], yTicks: [0, 0.05, 0.1, 0.15, 0.2, 0.25, 0.3, 0.35, 0.4], yDec: 2,
    k: 39.8, kTicks: [0, 2, 4, 6, 8, 10, 12, 14, 16] },
  { name: 'NGC 6284', info: 'N=152 (33), D=14.2 kpc',
    disp: ngc6284_disp, core: ngc6284_core, rot: ngc6284_rot,
    points: [{ data: ngc6284_los, style: 'los' }],
    xr: [0, 4], xTicks: [0, 0.5, 1, 1.5, 2, 2.5, 3, 3.5, 4], xDec: 1,
    yr: [-0.046, 0.1293], yTicks: [0, 0.05, 0.1], yDec: 2,
    k: 67.2, kTicks: [-2, 0, 2, 4, 6, 8] },
  { name: 'NGC 6287', info: 'N=201 (75), D=7.9 kpc',
    disp: ngc6287_disp, core: ngc6287_core, rot: ngc6287_rot,
    points: [],
    xr: [0, 6], xTicks: [0, 1, 2, 3, 4, 5, 6], xDec: 0,
    yr: [-0.0678, 0.2377], yTicks: [-0.05, 0, 0.05, 0.1, 0.15, 0.2], yDec: 2,
    k: 37.4, kTicks: [-2, 0, 2, 4, 6, 8] },
  { name: 'NGC 6293', info: 'N=194 (86), D=9.2 kpc',
    disp: ngc6293_disp, core: ngc6293_core, rot: ngc6293_rot,
    points: [{ data: ngc6293_pm, style: 'inner' }],
    xr: [0, 4.98], xTicks: [0, 1, 2, 3, 4], xDec: 0,
    yr: [-0.0256, 0.2005], yTicks: [0, 0.05, 0.1, 0.15, 0.2], yDec: 2,
    k: 43.97, kTicks: [0, 2, 4, 6, 8] }
];

// ---------------------------------------------------------------------------
// Styling and layout
// ---------------------------------------------------------------------------
const FONT = 'DejaVu Sans';
const COL_LEFT = [80, 525, 970];
const ROW_TOP = [10, 361, 713, 1063, 1414];
const PANEL_W = 298, PANEL_H = 297;

const RED_BAND = 'rgba(255,0,0,0.30)';
const RED_LINE = 'rgba(255,0,0,0.42)';
const BLUE_BAND = 'rgba(0,0,255,0.25)';
const BLUE_CORE = 'rgba(0,0,255,0.20)';
const BLUE_LINE = 'rgba(0,0,255,0.45)';

// cap: half width of the caps on vertical bars; xcap: half height of caps on horizontal bars
const POINT_STYLES = {
  los:   { color: '#5a8d5a', cap: 8, xcap: 8, lw: 1.5, marker: 'star', size: 5 },
  pm:    { color: '#c4c42c', cap: 8, xcap: 8, lw: 1.5, marker: 'star', size: 4.5 },
  inner: { color: '#ffa500', cap: 6, xcap: 0, lw: 1.4, marker: 'star', size: 4 },
  hst:   { color: '#8a2be2', cap: 4, xcap: 0, lw: 1.3, marker: 'dot', size: 2 },
  acs:   { color: '#7462d6', cap: 6, xcap: 0, lw: 1.3, marker: 'dot', size: 2.5 }
};

// Monotone cubic (Fritsch-Carlson, as in d3.curveMonotoneX) through pixel points.
function monotoneCurve(pts) {
  const n = pts.length;
  if (n < 3) return pts.slice();
  const h = [], s = [];
  for (let i = 0; i < n - 1; i++) {
    h[i] = pts[i + 1][0] - pts[i][0];
    s[i] = h[i] ? (pts[i + 1][1] - pts[i][1]) / h[i] : 0;
  }
  const m = new Array(n);
  for (let i = 1; i < n - 1; i++) {
    const p = (s[i - 1] * h[i] + s[i] * h[i - 1]) / (h[i - 1] + h[i]);
    m[i] = (Math.sign(s[i - 1]) + Math.sign(s[i])) *
           Math.min(Math.abs(s[i - 1]), Math.abs(s[i]), 0.5 * Math.abs(p)) || 0;
  }
  m[0] = (3 * s[0] - m[1]) / 2;
  m[n - 1] = (3 * s[n - 2] - m[n - 2]) / 2;
  const out = [];
  for (let i = 0; i < n - 1; i++) {
    const steps = Math.max(2, Math.ceil(h[i] / 3));
    for (let k = 0; k < steps; k++) {
      const t = k / steps, t2 = t * t, t3 = t2 * t;
      const y = (2 * t3 - 3 * t2 + 1) * pts[i][1] + (t3 - 2 * t2 + t) * h[i] * m[i] +
                (-2 * t3 + 3 * t2) * pts[i + 1][1] + (t3 - t2) * h[i] * m[i + 1];
      out.push([pts[i][0] + t * h[i], y]);
    }
  }
  out.push(pts[n - 1]);
  return out;
}

// Filled band between lower and upper edges: rows are [R, lower, upper].
function bandSeries(axes, rows, fill) {
  return Object.assign({
    type: 'custom', clip: true, silent: true,
    data: rows, encode: { x: 0, y: [1, 2] },
    renderItem: function (params, api) {
      if (params.dataIndex !== 0) return null;
      const lo = monotoneCurve(rows.map(r => api.coord([r[0], r[1]])));
      const hi = monotoneCurve(rows.map(r => api.coord([r[0], r[2]])));
      return { type: 'polygon', shape: { points: hi.concat(lo.reverse()) }, style: { fill: fill } };
    }
  }, axes);
}

// Smooth profile line: rows are [R, value].
function curveSeries(axes, rows, stroke) {
  return Object.assign({
    type: 'custom', clip: true, silent: true,
    data: rows, encode: { x: 0, y: 1 },
    renderItem: function (params, api) {
      if (params.dataIndex !== 0) return null;
      const pts = monotoneCurve(rows.map(r => api.coord([r[0], r[1]])));
      return { type: 'polyline', shape: { points: pts },
               style: { stroke: stroke, lineWidth: 2.4, fill: null, lineJoin: 'round' } };
    }
  }, axes);
}

function starPoints(cx, cy, r) {
  const pts = [];
  for (let j = 0; j < 10; j++) {
    const a = -Math.PI / 2 + j * Math.PI / 5;
    const rr = j % 2 ? r * 0.45 : r;
    pts.push([cx + rr * Math.cos(a), cy + rr * Math.sin(a)]);
  }
  return pts;
}

// Binned measurements with vertical (and optional horizontal) error bars.
function errorSeries(axes, rows, st) {
  const data = rows.map(r => [r[0], r[1], r[2], r[3] || 0, r.length > 4 ? r[4] : (r[3] || 0)]);
  return Object.assign({
    type: 'custom', clip: true, silent: true,
    data: data, encode: { x: 0, y: 1 },
    renderItem: function (params, api) {
      const R = api.value(0), v = api.value(1), e = api.value(2);
      const xl = api.value(3), xh = api.value(4);
      const c = api.coord([R, v]);
      const up = api.coord([R, v + e]), dn = api.coord([R, v - e]);
      const ls = { stroke: st.color, lineWidth: st.lw };
      const kids = [
        { type: 'line', shape: { x1: c[0], y1: up[1], x2: c[0], y2: dn[1] }, style: ls },
        { type: 'line', shape: { x1: c[0] - st.cap, y1: up[1], x2: c[0] + st.cap, y2: up[1] }, style: ls },
        { type: 'line', shape: { x1: c[0] - st.cap, y1: dn[1], x2: c[0] + st.cap, y2: dn[1] }, style: ls }
      ];
      if (xl > 0 || xh > 0) {
        const lf = api.coord([R - xl, v]), rt = api.coord([R + xh, v]);
        kids.push({ type: 'line', shape: { x1: lf[0], y1: c[1], x2: rt[0], y2: c[1] }, style: ls });
        if (st.xcap > 0) {
          kids.push({ type: 'line', shape: { x1: lf[0], y1: c[1] - st.xcap, x2: lf[0], y2: c[1] + st.xcap }, style: ls });
          kids.push({ type: 'line', shape: { x1: rt[0], y1: c[1] - st.xcap, x2: rt[0], y2: c[1] + st.xcap }, style: ls });
        }
      }
      if (st.marker === 'star') {
        kids.push({ type: 'polygon', shape: { points: starPoints(c[0], c[1], st.size) }, style: { fill: st.color } });
      } else {
        kids.push({ type: 'circle', shape: { cx: c[0], cy: c[1], r: st.size }, style: { fill: st.color } });
      }
      return { type: 'group', children: kids };
    }
  }, axes);
}

function tickFormat(dec) {
  return function (v) { return (v < 0 ? '\u2212' : '') + Math.abs(v).toFixed(dec); };
}

const tickLine = { color: '#000', width: 1.2 };
const spine = { show: true, onZero: false, lineStyle: { color: '#000', width: 1.3 } };
const labelText = { fontFamily: FONT, fontSize: 15, color: '#000' };
const nameRich = {
  g: { fontFamily: FONT, fontStyle: 'italic', fontSize: 17, color: '#000', lineHeight: 22, verticalAlign: 'top' },
  s: { fontFamily: FONT, fontSize: 11, color: '#000', lineHeight: 12, verticalAlign: 'bottom' },
  si: { fontFamily: FONT, fontStyle: 'italic', fontSize: 11, color: '#000', lineHeight: 12, verticalAlign: 'bottom' },
  t: { fontFamily: FONT, fontSize: 16, color: '#000', lineHeight: 22, verticalAlign: 'top' }
};

const option = {
  animation: false,
  backgroundColor: '#ffffff',
  title: [], grid: [], xAxis: [], yAxis: [], series: []
};

panels.forEach(function (p, i) {
  const left = COL_LEFT[i % 3];
  const top = ROW_TOP[Math.floor(i / 3)];

  option.grid.push({ left: left, top: top, width: PANEL_W, height: PANEL_H, show: false });

  option.title.push({
    text: p.name, left: left + PANEL_W / 2, top: top + 5, textAlign: 'center', padding: 0,
    textStyle: { fontFamily: FONT, fontSize: 21, fontWeight: 'normal', color: '#000' }
  });
  option.title.push({
    text: p.info, left: left + PANEL_W / 2, top: top + 33, textAlign: 'center', padding: 0,
    textStyle: { fontFamily: FONT, fontSize: 16, fontWeight: 'normal', color: '#000' }
  });

  // bottom and top x axes
  option.xAxis.push({
    type: 'value', gridIndex: i, position: 'bottom', min: p.xr[0], max: p.xr[1], z: 10,
    axisLine: spine, splitLine: { show: false },
    axisTick: { show: true, inside: true, length: 6, lineStyle: tickLine, customValues: p.xTicks },
    axisLabel: Object.assign({ customValues: p.xTicks, formatter: tickFormat(p.xDec), margin: 10 }, labelText),
    name: 'R [arcmin]', nameLocation: 'middle', nameGap: 27,
    nameTextStyle: { fontFamily: FONT, fontSize: 16, color: '#000' }
  });
  option.xAxis.push({
    type: 'value', gridIndex: i, position: 'top', min: p.xr[0], max: p.xr[1], z: 10,
    axisLine: spine, splitLine: { show: false },
    axisTick: { show: true, inside: true, length: 6, lineStyle: tickLine, customValues: p.xTicks },
    axisLabel: { show: false }
  });

  // left (mas/yr) and right (km/s) y axes
  option.yAxis.push({
    type: 'value', gridIndex: i, position: 'left', min: p.yr[0], max: p.yr[1], z: 10,
    axisLine: spine, splitLine: { show: false },
    axisTick: { show: true, inside: true, length: 6, lineStyle: tickLine, customValues: p.yTicks },
    axisLabel: Object.assign({ customValues: p.yTicks, formatter: tickFormat(p.yDec), margin: 11 }, labelText),
    name: '{g|\u03bc}{s|rot}{t|, }{g|\u03c3}{si|\u03bc}{t| [mas/yr]}',
    nameLocation: 'middle', nameRotate: 90, nameGap: 49,
    nameTextStyle: { rich: nameRich }
  });
  option.yAxis.push({
    type: 'value', gridIndex: i, position: 'right', min: p.yr[0] * p.k, max: p.yr[1] * p.k, z: 10,
    axisLine: spine, splitLine: { show: false },
    axisTick: { show: true, inside: true, length: 6, lineStyle: tickLine, customValues: p.kTicks },
    axisLabel: Object.assign({ customValues: p.kTicks, formatter: tickFormat(0), margin: 10 }, labelText),
    name: '{g|\u03c3}{s|los}{t| [km/s]}',
    nameLocation: 'middle', nameRotate: 90, nameGap: 34,
    nameTextStyle: { rich: nameRich }
  });

  const axes = { xAxisIndex: 2 * i, yAxisIndex: 2 * i };
  option.series.push(bandSeries(axes, p.rot.map(r => [r[0], r[2], r[3]]), RED_BAND));
  option.series.push(curveSeries(axes, p.rot.map(r => [r[0], r[1]]), RED_LINE));
  option.series.push(bandSeries(axes, p.disp.map(r => [r[0], r[2], r[3]]), BLUE_BAND));
  option.series.push(bandSeries(axes, p.core, BLUE_CORE));
  option.series.push(curveSeries(axes, p.disp.map(r => [r[0], r[1]]), BLUE_LINE));
  p.points.forEach(function (set) {
    option.series.push(errorSeries(axes, set.data, POINT_STYLES[set.style]));
  });
});

const chart = echarts.init(document.getElementById('chart'), null, { renderer: 'canvas' });
chart.setOption(option);
</script>
</body>
</html>
